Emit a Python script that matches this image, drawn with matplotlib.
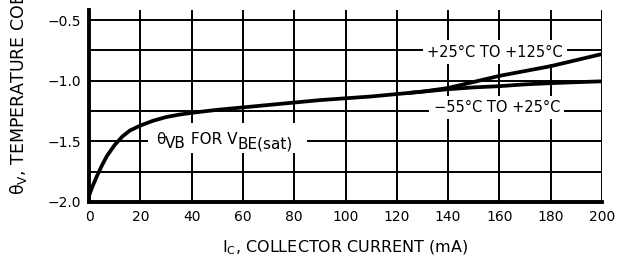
import matplotlib.pyplot as plt
from matplotlib.patches import Rectangle
import numpy as np

plt.rcParams["font.family"] = ["DejaVu Sans"]
plt.rcParams["mathtext.default"] = "regular"

# shared part of the curve (theta_VB for VBE(sat))
ic_common = [0, 1, 2, 3, 5, 7, 10, 13, 16, 20, 25, 30, 35, 40, 50, 60, 70, 80, 90, 100, 110, 120, 125]
th_common = [-1.95, -1.89, -1.84, -1.79, -1.70, -1.62, -1.53, -1.46, -1.41, -1.37, -1.33, -1.30,
             -1.28, -1.265, -1.24, -1.22, -1.20, -1.18, -1.16, -1.145, -1.13, -1.11, -1.10]

# split above ~125 mA
ic_hot = [125, 130, 140, 150, 160, 170, 180, 190, 200]
th_hot = [-1.10, -1.09, -1.06, -1.01, -0.96, -0.92, -0.88, -0.83, -0.78]
ic_cold = [125, 130, 140, 150, 160, 170, 180, 190, 200]
th_cold = [-1.10, -1.09, -1.07, -1.055, -1.045, -1.03, -1.02, -1.012, -1.005]

x_ticks = [0, 20, 40, 60, 80, 100, 120, 140, 160, 180, 200]
y_ticks = [-0.5, -1.0, -1.5, -2.0]
y_ticklabels = ["−0.5", "−1.0", "−1.5", "−2.0"]

FS = 10

fig = plt.figure(figsize=(6.23, 2.64), dpi=100)
ax = fig.add_axes([0.1429, 0.235, 0.8234, 0.727])
ax.set_xlim(0, 200)
ax.set_ylim(-2.0, -0.417)

# grid drawn by hand so the lines match the datasheet look
for x in x_ticks[1:]:
    ax.axvline(x, color="black", lw=1.4, zorder=1)
for y in np.arange(-1.75, -0.49, 0.25):
    ax.axhline(y, color="black", lw=1.4, zorder=1)

ax.plot(ic_common, th_common, color="black", lw=2.7, zorder=3, solid_capstyle="round")
ax.plot(ic_hot, th_hot, color="black", lw=2.7, zorder=3, solid_capstyle="round")
ax.plot(ic_cold, th_cold, color="black", lw=2.7, zorder=3, solid_capstyle="round")

box = dict(facecolor="white", edgecolor="none", pad=3)

# curve label with big subscripts, built piece by piece on a white patch
ax.add_patch(Rectangle((23, -1.60), 62, 0.25, facecolor="white", edgecolor="none", zorder=2))
pieces = [("θ", 0), ("VB", -4), (" FOR V", 0), ("BE(sat)", -4)]
prev = ax.text(26, -1.525, pieces[0][0], fontsize=11, ha="left", va="baseline", zorder=2.5)
level = 0
for txt, dy in pieces[1:]:
    prev = ax.annotate(txt, xy=(1, 0), xycoords=prev, xytext=(0, (dy - level) * 0.72),
                       textcoords="offset points", fontsize=11, ha="left", va="bottom",
                       zorder=2.5)
    level = dy

ax.text(158.3, -0.765, "+25°C TO +125°C", fontsize=10.5, ha="center", va="center", bbox=box, zorder=2)
ax.text(159, -1.223, "−55°C TO +25°C", fontsize=10.5, ha="center", va="center", bbox=box, zorder=2)

for s in ["top", "right"]:
    ax.spines[s].set_visible(False)
ax.spines["left"].set_linewidth(2.8)
ax.spines["bottom"].set_linewidth(2.8)

ax.set_xticks(x_ticks)
ax.set_yticks(y_ticks)
ax.set_yticklabels(y_ticklabels)
ax.tick_params(length=0, labelsize=FS, pad=6)

ax.set_xlabel(r"$I_C$, COLLECTOR CURRENT (mA)", fontsize=11.5, labelpad=10)
fig.text(0.03, 0.26, r"$\theta_V$, TEMPERATURE COEFFICIENT (mV/°C)", fontsize=12.5,
         rotation=90, ha="center", va="bottom")

fig.savefig("out.png", dpi=100)
